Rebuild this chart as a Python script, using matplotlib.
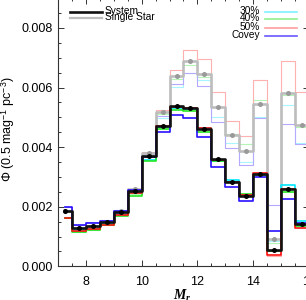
import numpy as np
import matplotlib
matplotlib.use('Agg')
import matplotlib.pyplot as plt
from matplotlib.ticker import MultipleLocator

plt.rcParams['font.family'] = ['Liberation Sans', 'DejaVu Sans']
plt.rcParams['mathtext.fontset'] = 'custom'
plt.rcParams['mathtext.rm'] = 'Liberation Sans'
plt.rcParams['mathtext.it'] = 'Liberation Serif:italic:bold'

# bin centres (0.5 mag bins), values in units of 1e-3 mag^-1 pc^-3
mr = [7.25, 7.75, 8.25, 8.75, 9.25, 9.75, 10.25, 10.75, 11.25, 11.75,
      12.25, 12.75, 13.25, 13.75, 14.25, 14.75, 15.25, 15.75, 16.25]

system = [1.87, 1.30, 1.34, 1.49, 1.82, 2.54, 3.70, 4.72, 5.39, 5.30,
          4.60, 3.59, 2.84, 2.36, 3.10, 0.55, 2.60, 1.42, 1.42]
single = [1.87, 1.30, 1.35, 1.50, 1.84, 2.58, 3.80, 5.18, 6.40, 6.89,
          6.46, 5.35, 4.41, 3.87, 5.46, 0.91, 5.81, 4.74, 4.74]

sys30 = [1.63, 1.22, 1.25, 1.41, 1.74, 2.47, 3.58, 4.66, 5.30, 5.28,
         4.63, 3.54, 2.90, 2.40, 3.10, 0.52, 2.73, 1.52, 1.52]
sys40 = [1.61, 1.15, 1.22, 1.38, 1.70, 2.37, 3.54, 4.60, 5.24, 5.22,
         4.52, 3.52, 2.82, 2.42, 3.08, 0.51, 2.50, 1.35, 1.35]
sys50 = [1.63, 1.19, 1.24, 1.40, 1.73, 2.45, 3.66, 4.70, 5.36, 5.32,
         4.63, 3.58, 2.84, 2.38, 3.12, 0.39, 2.58, 1.27, 1.27]
sys_covey = [2.00, 1.39, 1.46, 1.53, 1.85, 2.56, 3.66, 4.50, 5.08, 4.99,
             4.35, 3.34, 2.65, 2.20, 3.01, 1.19, 2.25, 1.44, 1.44]

sgl30 = [1.63, 1.22, 1.26, 1.42, 1.76, 2.50, 3.72, 4.97, 6.01, 6.47,
         6.25, 5.00, 4.15, 3.51, 5.00, 0.85, 5.40, 4.15, 4.15]
sgl40 = [1.61, 1.16, 1.23, 1.39, 1.72, 2.42, 3.75, 5.10, 6.29, 6.75,
         6.36, 5.36, 4.43, 4.10, 5.58, 0.77, 5.75, 4.66, 4.66]
sgl50 = [1.64, 1.20, 1.25, 1.42, 1.76, 2.52, 3.85, 5.24, 6.59, 7.26,
         6.95, 5.86, 4.87, 4.37, 6.25, 0.33, 6.90, 5.84, 5.84]
sgl_covey = [2.00, 1.40, 1.47, 1.55, 1.88, 2.60, 3.76, 5.03, 6.12, 6.47,
             6.05, 4.85, 3.96, 3.40, 4.97, 2.06, 4.77, 4.10, 4.10]

model_labels = ['30%', '40%', '50%', 'Covey']
dark_cols = ['#00e8ff', '#22e622', '#ff1010', '#2a10ff']
pale_cols = ['#a8f4ff', '#b4f4b4', '#ffb0b0', '#b4a8ff']
legend_cols = ['#80f0ff', '#90f090', '#ff9c9c', '#6a58ff']

x = np.array(mr)
s = 1e-3

fig = plt.figure(figsize=(3.06, 3.0), dpi=100)
ax = fig.add_axes([58/306, 33.7/300, 251/306, 268.2/300])

# single star versions (pale)
for yv, c in zip([sgl30, sgl40, sgl50, sgl_covey], pale_cols):
    ax.step(x, np.array(yv)*s, where='mid', color=c, lw=0.8, zorder=1)

ax.step(x, np.array(single)*s, where='mid', color='#bdbdbd', lw=1.9, zorder=2)
ax.plot(x, np.array(single)*s, 'o', color='#9a9a9a', ms=3.6, mec='none', zorder=2.5)

for yv, c in zip([sys30, sys40, sys50, sys_covey], dark_cols):
    ax.step(x, np.array(yv)*s, where='mid', color=c, lw=1.2, zorder=3)

ax.step(x, np.array(system)*s, where='mid', color='#111111', lw=1.9, zorder=4)
ax.plot(x, np.array(system)*s, 'o', color='black', ms=3.6, mec='none', zorder=5)

ax.set_xlim(7, 16)
ax.set_ylim(0, 0.009)
ax.xaxis.set_major_locator(MultipleLocator(2))
ax.xaxis.set_minor_locator(MultipleLocator(0.5))
ax.yaxis.set_major_locator(MultipleLocator(0.002))
ax.yaxis.set_minor_locator(MultipleLocator(0.0005))
ax.yaxis.set_major_formatter(plt.FormatStrFormatter('%.3f'))
ax.tick_params(which='both', direction='in', top=True, right=True,
               width=0.7, colors='#333333', labelcolor='black', labelsize=9)
ax.tick_params(which='major', length=4.4, pad=4)
ax.tick_params(which='minor', length=2.3)
ax.tick_params(axis='x', which='major', pad=7)
for sp in ax.spines.values():
    sp.set_linewidth(0.8)
    sp.set_color('#333333')

ax.set_ylabel('Φ (0.5 mag$^{-1}$ pc$^{-3}$)', fontsize=9)
ax.yaxis.set_label_coords(-0.165, 0.51)
ax.set_xlabel(r'$M_r$', fontsize=10)
ax.xaxis.set_label_coords(0.494, -0.082)

# legends drawn in axes fraction
def px(xp, yp):
    return (xp - 58) / 251, (266.3 - yp) / 268.2

for lab, col, lw, yp in [('System', '#111111', 1.9, 12.3), ('Single Star', '#bdbdbd', 1.6, 18.3)]:
    x0, y0 = px(70, yp)
    x1, _ = px(101.7, yp)
    ax.plot([x0, x1], [y0, y0], color=col, lw=lw, transform=ax.transAxes, clip_on=False)
    tx, ty = px(105, yp - 1)
    ax.text(tx, ty, lab, transform=ax.transAxes, fontsize=7.3, va='center', ha='left')

for lab, col, yp in zip(model_labels, legend_cols, [11.7, 19.3, 27.7, 35.7]):
    x0, y0 = px(265, yp)
    x1, _ = px(296.7, yp)
    ax.plot([x0, x1], [y0, y0], color=col, lw=1.2, transform=ax.transAxes, clip_on=False)
    tx, ty = px(260, yp - 1)
    ax.text(tx, ty, lab, transform=ax.transAxes, fontsize=7.3, va='center', ha='right')

fig.savefig('out.png', dpi=100)
